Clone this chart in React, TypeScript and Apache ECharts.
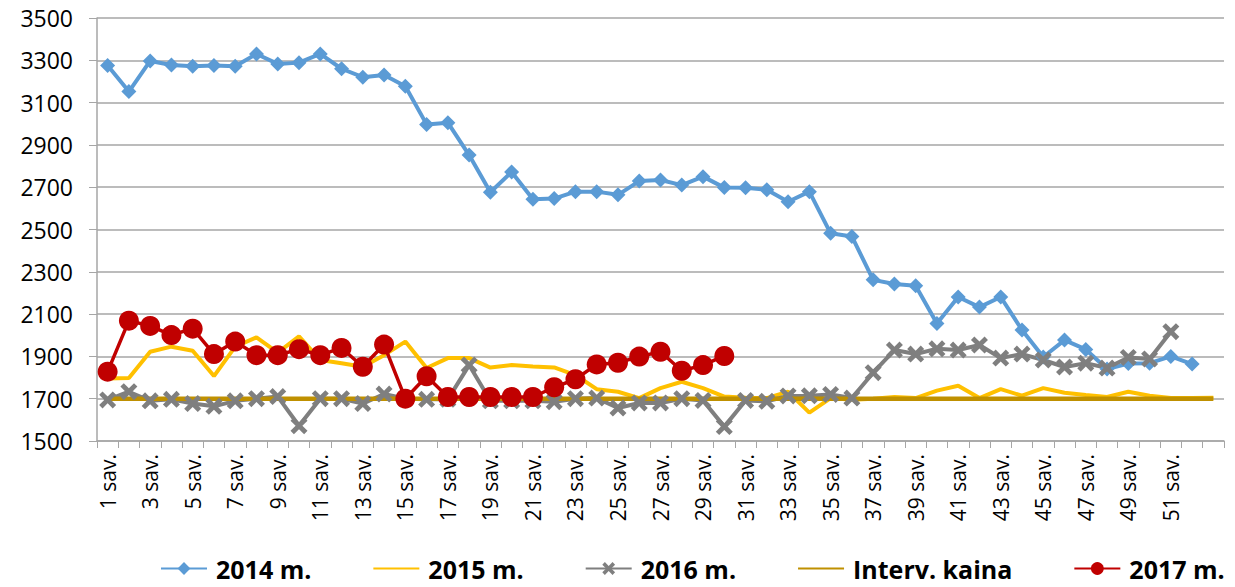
import React, { useEffect, useRef } from "react";
import * as echarts from "echarts";

const weeks: string[] = [
  "1 sav.", "2 sav.", "3 sav.", "4 sav.", "5 sav.", "6 sav.", "7 sav.", "8 sav.", "9 sav.", "10 sav.",
  "11 sav.", "12 sav.", "13 sav.", "14 sav.", "15 sav.", "16 sav.", "17 sav.", "18 sav.", "19 sav.", "20 sav.",
  "21 sav.", "22 sav.", "23 sav.", "24 sav.", "25 sav.", "26 sav.", "27 sav.", "28 sav.", "29 sav.", "30 sav.",
  "31 sav.", "32 sav.", "33 sav.", "34 sav.", "35 sav.", "36 sav.", "37 sav.", "38 sav.", "39 sav.", "40 sav.",
  "41 sav.", "42 sav.", "43 sav.", "44 sav.", "45 sav.", "46 sav.", "47 sav.", "48 sav.", "49 sav.", "50 sav.",
  "51 sav.", "52 sav.", "53 sav.",
];

const y2014: number[] = [
  3275, 3152, 3297, 3278, 3272, 3275, 3272, 3330, 3283, 3289,
  3330, 3260, 3220, 3230, 3177, 2997, 3005, 2852, 2676, 2772,
  2643, 2646, 2679, 2679, 2664, 2729, 2734, 2710, 2750, 2698,
  2697, 2688, 2631, 2679, 2482, 2467, 2262, 2242, 2234, 2056,
  2181, 2133, 2181, 2025, 1897, 1977, 1933, 1840, 1866, 1868,
  1900, 1864,
];

const y2015: number[] = [
  1796, 1798, 1922, 1946, 1927, 1807, 1946, 1990, 1918, 1995,
  1883, 1868, 1851, 1906, 1970, 1845, 1892, 1892, 1847, 1859,
  1852, 1848, 1812, 1745, 1733, 1703, 1750, 1780, 1750, 1710,
  1705, 1703, 1733, 1634, 1703, 1695, 1700, 1708, 1703, 1738,
  1761, 1703, 1745, 1714, 1750, 1728, 1717, 1708, 1733, 1714,
  1703, 1703, 1705,
];

const y2016: (number | null)[] = [
  1694, 1733, 1690, 1697, 1677, 1664, 1690, 1700, 1710, 1572,
  1700, 1700, 1677, 1722, 1700, 1697, 1697, 1859, 1690, 1690,
  1690, 1686, 1700, 1703, 1656, 1680, 1680, 1700, 1692, 1568,
  1692, 1688, 1713, 1714, 1720, 1703, 1823, 1930, 1911, 1936,
  1930, 1954, 1892, 1911, 1883, 1850, 1868, 1845, 1895, 1888,
  2017,
];

const yInterv: number[] = [
  1700, 1700, 1700, 1700, 1700, 1700, 1700, 1700, 1700, 1700,
  1700, 1700, 1700, 1700, 1700, 1700, 1700, 1700, 1700, 1700,
  1700, 1700, 1700, 1700, 1700, 1700, 1700, 1700, 1700, 1700,
  1700, 1700, 1700, 1700, 1700, 1700, 1700, 1700, 1700, 1700,
  1700, 1700, 1700, 1700, 1700, 1700, 1700, 1700, 1700, 1700,
  1700, 1700, 1700,
];

const y2017: number[] = [
  1828, 2069, 2044, 2001, 2031, 1911, 1970, 1906, 1906, 1934,
  1906, 1940, 1851, 1956, 1700, 1806, 1708, 1708, 1708, 1708,
  1708, 1754, 1792, 1862, 1870, 1899, 1922, 1832, 1859, 1902,
];

const seriesNames: string[] = ["2014 m.", "2015 m.", "2016 m.", "Interv. kaina", "2017 m."];

const xSymbol =
  "path://M2,0 L5,3 L8,0 L10,2 L7,5 L10,8 L8,10 L5,7 L2,10 L0,8 L3,5 L0,2 Z";

const FONT = "'Open Sans', 'Noto Sans', sans-serif";

export default function App() {
  const ref = useRef<HTMLDivElement>(null);

  useEffect(() => {
    if (!ref.current) return;
    const chart = echarts.init(ref.current, undefined, { renderer: "svg" });
    const option: any = {
      animation: false,
      backgroundColor: "#ffffff",
      textStyle: { fontFamily: FONT },
      grid: { left: 97, right: 11, top: 18, bottom: 146, containLabel: false },
      legend: {
        left: 155,
        top: 551,
        itemWidth: 46,
        itemHeight: 16,
        itemGap: 61,
        textStyle: {
          fontFamily: FONT,
          fontSize: 25,
          fontWeight: "bold",
          color: "#000",
          padding: [0, 0, 0, 4],
        },
        data: [
          { name: seriesNames[0] },
          { name: seriesNames[1], itemStyle: { opacity: 0 } },
          { name: seriesNames[2] },
          { name: seriesNames[3], itemStyle: { opacity: 0 } },
          { name: seriesNames[4] },
        ],
      },
      xAxis: {
        type: "category",
        data: weeks,
        boundaryGap: true,
        axisLine: { lineStyle: { color: "#a6a6a6", width: 1.5 } },
        axisTick: { show: true, interval: 0, length: 7, lineStyle: { color: "#a6a6a6" } },
        axisLabel: {
          rotate: 90,
          margin: 13,
          interval: (i: number) => i % 2 === 0 && i < 52,
          fontFamily: FONT,
          fontSize: 21,
          color: "#000",
        },
        splitLine: { show: false },
      },
      yAxis: {
        type: "value",
        min: 1500,
        max: 3500,
        interval: 200,
        axisLine: { show: true, lineStyle: { color: "#a6a6a6", width: 1.5 } },
        axisTick: { show: true, length: 8, lineStyle: { color: "#a6a6a6" } },
        axisLabel: {
          margin: 24,
          fontFamily: FONT,
          fontSize: 23,
          color: "#000",
          formatter: (v: number) => String(v),
        },
        splitLine: { lineStyle: { color: "#a6a6a6", width: 1.5 } },
      },
      series: [
        {
          name: seriesNames[0],
          type: "line",
          data: y2014,
          symbol: "diamond",
          symbolSize: 15,
          showAllSymbol: true,
          itemStyle: { color: "#5b9bd5" },
          lineStyle: { color: "#5b9bd5", width: 4 },
        },
        {
          name: seriesNames[1],
          type: "line",
          data: y2015,
          symbol: "none",
          showSymbol: false,
          itemStyle: { color: "#ffc000" },
          lineStyle: { color: "#ffc000", width: 4 },
        },
        {
          name: seriesNames[2],
          type: "line",
          data: y2016,
          symbol: xSymbol,
          symbolSize: 17,
          showAllSymbol: true,
          itemStyle: { color: "#7f7f7f" },
          lineStyle: { color: "#7f7f7f", width: 4 },
        },
        {
          name: seriesNames[3],
          type: "line",
          data: yInterv,
          symbol: "none",
          showSymbol: false,
          itemStyle: { color: "#bf9000" },
          lineStyle: { color: "#bf9000", width: 4.5 },
        },
        {
          name: seriesNames[4],
          type: "line",
          data: y2017,
          symbol: "circle",
          symbolSize: 20,
          showAllSymbol: true,
          itemStyle: { color: "#c00000" },
          lineStyle: { color: "#c00000", width: 3.5 },
        },
      ],
    };
    chart.setOption(option);
    return () => chart.dispose();
  }, []);

  return (
    <div
      ref={ref}
      style={{ position: "fixed", left: 0, top: 0, width: 1235, height: 587, background: "#fff" }}
    />
  );
}
